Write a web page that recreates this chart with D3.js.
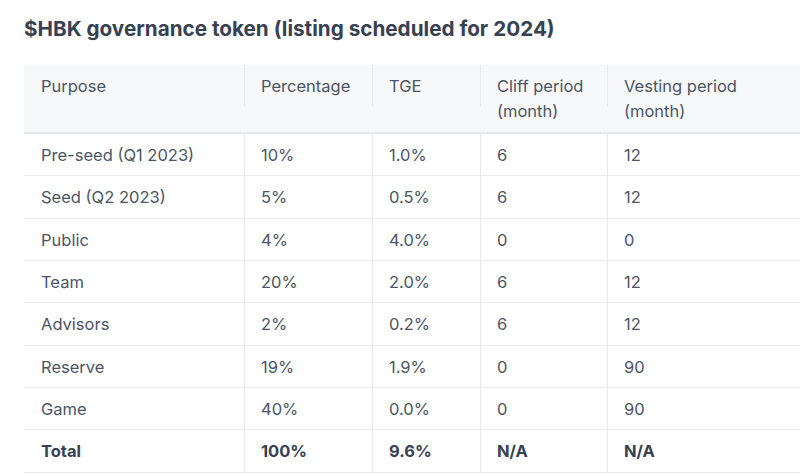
<!DOCTYPE html>
<html><head><meta charset="utf-8">
<script src="https://cdn.jsdelivr.net/npm/d3@7"></script>
<style>
html,body{margin:0;padding:0;background:#fff;}
svg{display:block;font-family:Inter,"Noto Sans",sans-serif;}
</style></head>
<body>
<svg id="c" width="800" height="475"></svg>
<script>
const title = "$HBK governance token (listing scheduled for 2024)";
const headers = [["Purpose"], ["Percentage"], ["TGE"], ["Cliff period", "(month)"], ["Vesting period", "(month)"]];
const purposes = ["Pre-seed (Q1 2023)", "Seed (Q2 2023)", "Public", "Team", "Advisors", "Reserve", "Game"];
const percentage = ["10%", "5%", "4%", "20%", "2%", "19%", "40%"];
const tge = ["1.0%", "0.5%", "4.0%", "2.0%", "0.2%", "1.9%", "0.0%"];
const cliff = ["6", "6", "0", "6", "6", "0", "0"];
const vesting = ["12", "12", "0", "12", "12", "90", "90"];
const totalRow = ["Total", "100%", "9.6%", "N/A", "N/A"];

const rows = purposes.map((p, i) => [p, percentage[i], tge[i], cliff[i], vesting[i]]);
const allRows = rows.concat([totalRow]);

const svg = d3.select("#c");
const colEdges = [24, 244, 372, 480, 607, 800];
const x = d3.scaleOrdinal().domain(d3.range(5)).range(colEdges.slice(0, 5));
const y = d3.scaleBand().domain(d3.range(allRows.length)).range([134, 472.5]).padding(0);

svg.append("text").attr("x", 24).attr("y", 36)
  .attr("font-size", 20.7).attr("font-weight", 700).attr("fill", "#374151")
  .text(title);

// header background
svg.append("rect").attr("x", 24).attr("y", 65).attr("width", 776).attr("height", 67).attr("fill", "#f7f8fa");
svg.append("rect").attr("x", 24).attr("y", 132).attr("width", 776).attr("height", 2).attr("fill", "#e6e8eb");

// header dividers
svg.selectAll(".hd").data(d3.range(1, 5)).join("line")
  .attr("x1", d => x(d) + 0.5).attr("x2", d => x(d) + 0.5)
  .attr("y1", 65).attr("y2", 106).attr("stroke", "#e8eaed").attr("stroke-width", 1);

// header text
const ht = svg.selectAll(".ht").data(headers).join("text")
  .attr("x", (d, i) => x(i) + 17).attr("y", 92)
  .attr("font-size", 16.5).attr("fill", "#4b5563");
ht.selectAll("tspan").data(d => d).join("tspan")
  .attr("x", function () { return d3.select(this.parentNode).attr("x"); })
  .attr("dy", (d, j) => j === 0 ? 0 : 25)
  .text(d => d);

// row separators
svg.selectAll(".rl").data(d3.range(1, allRows.length + 1)).join("line")
  .attr("x1", 24).attr("x2", 800)
  .attr("y1", d => Math.round(y(d - 1) + y.bandwidth()) - 0.5)
  .attr("y2", d => Math.round(y(d - 1) + y.bandwidth()) - 0.5)
  .attr("stroke", "#e8eaed").attr("stroke-width", 1);

// body dividers
svg.selectAll(".bd").data(d3.range(1, 5)).join("line")
  .attr("x1", d => x(d) + 0.5).attr("x2", d => x(d) + 0.5)
  .attr("y1", 134).attr("y2", 472).attr("stroke", "#e8eaed").attr("stroke-width", 1);

// body cells
const rg = svg.selectAll(".row").data(allRows).join("g")
  .attr("transform", (d, i) => `translate(0,${y(i) + y.bandwidth() / 2})`);
rg.selectAll("text").data((d, i) => d.map(v => ({ v, total: i === allRows.length - 1 }))).join("text")
  .attr("x", (d, j) => x(j) + 17).attr("y", 0).attr("dy", "0.35em")
  .attr("font-size", 16.5)
  .attr("font-weight", d => d.total ? 700 : 400)
  .attr("fill", d => d.total ? "#374151" : "#4b5563")
  .text(d => d.v);
</script>
</body></html>
